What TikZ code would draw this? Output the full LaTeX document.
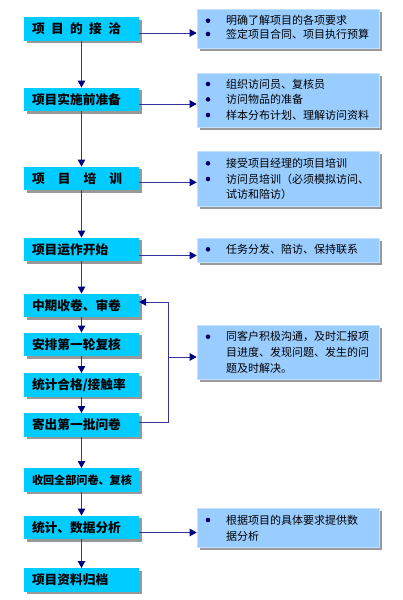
\documentclass[tikz,border=0pt]{standalone}
\usepackage{fontspec}
\setmainfont{Noto Sans CJK SC}
\usetikzlibrary{arrows.meta,shadows}
\definecolor{cyanc}{HTML}{00CCFF}
\definecolor{bluec}{HTML}{99CCFF}
\definecolor{linec}{HTML}{333399}
\definecolor{headc}{HTML}{000080}
\definecolor{shadc}{HTML}{999999}
\definecolor{bulc}{HTML}{000066}
\tikzset{
  lbox/.style={fill=cyanc, minimum width=115pt, minimum height=23.5pt, inner sep=0pt,
    drop shadow={shadow xshift=2.5pt, shadow yshift=-2.5pt, fill=shadc, opacity=1},
    font=\bfseries\fontsize{12.7}{14}\selectfont},
  rbox/.style={fill=bluec, draw=bluec!60!white, line width=0.6pt, minimum width=182pt, inner sep=0pt,
    drop shadow={shadow xshift=2.5pt, shadow yshift=-2.5pt, fill=shadc, opacity=1}},
  rtext/.style={anchor=base west, inner sep=0pt, font=\fontsize{11}{13}\selectfont},
  bul/.style={circle, fill=bulc, inner sep=0pt, minimum size=4.6pt},
  flow/.style={draw=linec, line width=0.9pt, -{Triangle[length=7pt,width=7.5pt,color=headc,fill=headc]}},
  plain/.style={draw=linec, line width=0.9pt}
}
\newcommand{\lt}[1]{\makebox[99pt][l]{#1}}
\begin{document}
\begin{tikzpicture}[x=1pt,y=-1pt]
\useasboundingbox (0,0) rectangle (402,600);
% left boxes
\node[lbox] (l1) at (81.5,29) {\lt{\makebox[89pt][s]{项\hfill 目\hfill 的\hfill 接\hfill 洽}}};
\node[lbox] (l2) at (81.5,99.5) {\lt{项目实施前准备}};
\node[lbox] (l3) at (81.5,178.5) {\lt{\makebox[90pt][s]{项\hfill 目\hfill 培\hfill 训}}};
\node[lbox] (l4) at (81.5,249.5) {\lt{项目运作开始}};
\node[lbox] (l5) at (81.5,305.5) {\lt{中期收卷、审卷}};
\node[lbox] (l6) at (81.5,344.5) {\lt{安排第一轮复核}};
\node[lbox] (l7) at (81.5,385) {\lt{统计合格/接触率}};
\node[lbox] (l8) at (81.5,425) {\lt{寄出第一批问卷}};
\node[lbox, font=\bfseries\fontsize{11.1}{13}\selectfont] (l9) at (81.5,480) {\lt{收回全部问卷、复核}};
\node[lbox] (l10) at (81.5,527.5) {\lt{统计、数据分析}};
\node[lbox] (l11) at (81.5,580) {\lt{项目资料归档}};
% right boxes
\node[rbox, minimum height=39pt] (r1) at (288,28.5) {};
\node[rbox, minimum height=54pt] (r2) at (288,100) {};
\node[rbox, minimum height=55pt] (r3) at (288,178.5) {};
\node[rbox, minimum height=24pt] (r4) at (288,250) {};
\node[rbox, minimum height=54pt] (r5) at (288,352) {};
\node[rbox, minimum height=39pt] (r6) at (288,527.5) {};
% right texts
\node[bul] (b11) at (208,20.7) {};
\node[rtext] (t11) at (226,24.9) {明确了解项目的各项要求};
\node[bul] (b12) at (208,34) {};
\node[rtext] (t12) at (226,38.2) {签定项目合同、项目执行预算};
\node[bul] (b21) at (208,84) {};
\node[rtext] (t21) at (226,88.2) {组织访问员、复核员};
\node[bul] (b22) at (208,99.4) {};
\node[rtext] (t22) at (226,103.6) {访问物品的准备};
\node[bul] (b23) at (208,115) {};
\node[rtext] (t23) at (226,119.2) {样本分布计划、理解访问资料};
\node[bul] (b31) at (208,163.3) {};
\node[rtext] (t31) at (226,167.5) {接受项目经理的项目培训};
\node[bul] (b32) at (208,179) {};
\node[rtext] (t32) at (226,183.4) {访问员培训（必须模拟访问、};
\node[rtext] (t33) at (226,198.6) {试访和陪访）};
\node[bul] (b41) at (208,249.3) {};
\node[rtext] (t41) at (226,253.5) {任务分发、陪访、保持联系};
\node[bul] (b51) at (208,336.7) {};
\node[rtext] (t51) at (226,340.9) {同客户积极沟通，及时汇报项};
\node[rtext] (t52) at (226,356.9) {目进度、发现问题、发生的问};
\node[rtext] (t53) at (226,372.5) {题及时解决。};
\node[bul] (b61) at (208,520) {};
\node[rtext] (t61) at (226,524.2) {根据项目的具体要求提供数};
\node[rtext] (t62) at (226,540.9) {据分析};
% vertical flow
\draw[flow] (l1.south) -- (l2.north);
\draw[flow] (l2.south) -- (l3.north);
\draw[flow] (l3.south) -- (l4.north);
\draw[flow] (l4.south) -- (l5.north);
\draw[flow] (l5.south) -- (l6.north);
\draw[flow] (l6.south) -- (l7.north);
\draw[flow] (l7.south) -- (l8.north);
\draw[flow] (l8.south) -- (l9.north);
\draw[flow] (l9.south) -- (l10.north);
\draw[flow] (l10.south) -- (l11.north);
% horizontal arrows
\draw[flow] ([yshift=-4pt]l1.east) -- ([yshift=-4pt]l1.east -| r1.west);
\draw[flow] ([yshift=-4.5pt]l2.east) -- ([yshift=-4.5pt]l2.east -| r2.west);
\draw[flow] ([yshift=-3.8pt]l3.east) -- ([yshift=-3.8pt]l3.east -| r3.west);
\draw[flow] ([yshift=-6pt]l4.east) -- ([yshift=-6pt]l4.east -| r4.west);
\draw[flow] ([yshift=-5pt]l10.east) -- ([yshift=-5pt]l10.east -| r6.west);
% feedback loop
\coordinate (lx) at (168,0);
\draw[flow] ([yshift=3pt]l8.east) -| ([yshift=3.5pt]l5.east -| lx) -- ([yshift=3.5pt]l5.east);
\draw[flow] ([yshift=-5pt]r5.west -| lx) -- ([yshift=-5pt]r5.west);
\end{tikzpicture}
\end{document}
